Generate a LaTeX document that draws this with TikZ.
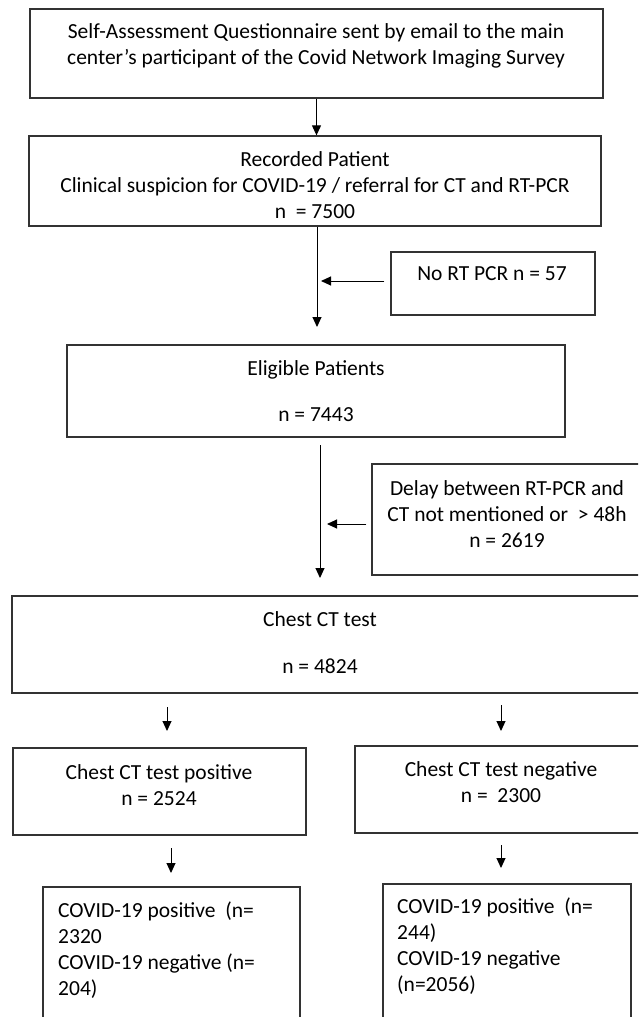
\documentclass[tikz,border=0pt]{standalone}
\usepackage{fontspec}
\setmainfont{Carlito}
\usetikzlibrary{arrows.meta}
\begin{document}
\begin{tikzpicture}[x=1pt,y=-1pt,
  box/.style={draw=black!80,line width=1.3pt,rectangle,inner sep=0pt},
  txt/.style={font=\fontsize{21.5}{26}\selectfont,align=center,inner sep=0pt},
  ltxt/.style={font=\fontsize{21.5}{26}\selectfont,align=left,inner sep=0pt,anchor=west},
  arr/.style={draw=black,line width=1pt,-{Triangle[length=10pt,width=9pt]}}]
\useasboundingbox (0,0) rectangle (638,1017);
\clip (0,0) rectangle (638,1017);
% boxes
\node[box,minimum width=573pt,minimum height=89pt] (b1) at (316.5,53.5) {};
\node[box,minimum width=572pt,minimum height=90pt] (b2) at (315,181) {};
\node[box,minimum width=204pt,minimum height=63pt] (b3) at (493,283.5) {};
\node[box,minimum width=498pt,minimum height=92pt] (b4) at (316,391) {};
\node[box,minimum width=278pt,minimum height=111pt] (b5) at (511,519.5) {};
\node[box,minimum width=638pt,minimum height=97pt] (b6) at (331,644.5) {};
\node[box,minimum width=293pt,minimum height=87pt] (b7) at (159.5,791.5) {};
\node[box,minimum width=295pt,minimum height=87pt] (b8) at (502.5,789.5) {};
\node[box,minimum width=257pt,minimum height=143pt] (b9) at (171.5,958.5) {};
\node[box,minimum width=248pt,minimum height=146pt] (b10) at (507,957) {};
% texts
\node[txt] (t1) at (316,46) {Self-Assessment Questionnaire sent by email to the main\\center’s participant of the Covid Network Imaging Survey};
\node[txt] (t2) at (315,185) {Recorded Patient\\Clinical suspicion for COVID-19 / referral for CT and RT-PCR\\n\ \ = 7500};
\node[txt] (t3) at (492,274) {No RT PCR n = 57};
\node[txt] (t4) at (316,391) {Eligible Patients\\[20pt]n = 7443};
\node[txt] (t5) at (507,514) {Delay between RT-PCR and\\CT not mentioned or\ \ > 48h\\n = 2619};
\node[txt] (t6) at (320,642.5) {Chest CT test\\[21pt]n = 4824};
\node[txt] (t7) at (159,785) {Chest CT test positive\\n = 2524};
\node[txt] (t8) at (501,782) {Chest CT test negative\\n =\ \ 2300};
\node[ltxt] (t9) at (58,950) {COVID-19 positive\ \ (n=\\2320\\COVID-19 negative (n=\\204)};
\node[ltxt] (t10) at (397,946) {COVID-19 positive\ \ (n=\\244)\\COVID-19 negative\\(n=2056)};
% coordinates
\coordinate (c2) at (317,327);
\coordinate (c3s) at (321,281);
\coordinate (c4a) at (320,445);
\coordinate (c4b) at (320,578);
\coordinate (c5) at (327,524);
\coordinate (p1a) at (167,707);
\coordinate (p1b) at (167,731);
\coordinate (n1a) at (501,705);
\coordinate (n1b) at (501,731);
\coordinate (p2a) at (171,848);
\coordinate (p2b) at (171,873);
\coordinate (n2a) at (501,845);
\coordinate (n2b) at (501,868);
% connectors
\draw[arr] (b1.south) -- (b1.south |- b2.north);
\draw[arr] (b2.south -| c2) -- (c2);
\draw[arr] ([xshift=-6pt,yshift=2.5pt]b3.west) -- (c3s);
\draw[arr] (c4a) -- (c4b);
\draw[arr] ([xshift=-5pt,yshift=-4.5pt]b5.west) -- (c5);
\draw[arr] (p1a) -- (p1b);
\draw[arr] (n1a) -- (n1b);
\draw[arr] (p2a) -- (p2b);
\draw[arr] (n2a) -- (n2b);
\end{tikzpicture}
\end{document}
